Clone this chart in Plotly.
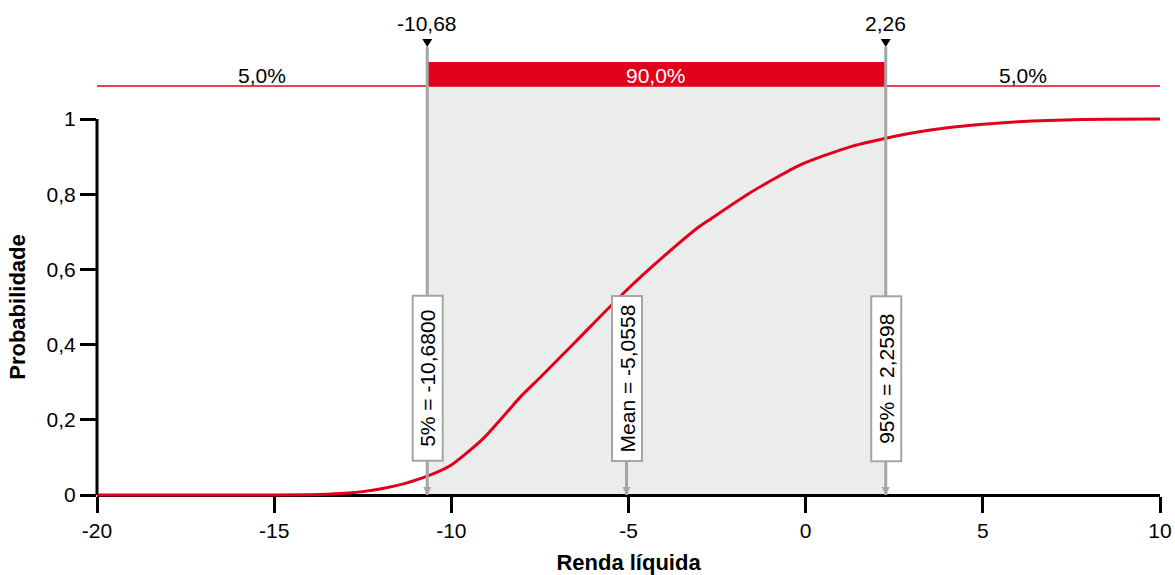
import plotly.graph_objects as go

# ---- data ----
x_vals = [-20, -16, -14, -13.5, -12.9, -12.5, -11.9, -11.3, -10.68, -10.0, -9.1, -8.45,
          -8.05, -7.5, -6.5, -5.15, -4.0, -3.0, -2.7, -1.6, -0.15, 1.25, 2.26, 3.0,
          4.0, 5.0, 6.0, 7.8, 10]
cdf_vals = [0, 0, 0.0005, 0.002, 0.005, 0.009, 0.018, 0.031, 0.05, 0.08, 0.150, 0.218,
            0.261, 0.312, 0.407, 0.536, 0.635, 0.714, 0.733, 0.802, 0.878, 0.926, 0.949, 0.963,
            0.977, 0.986, 0.993, 0.999, 1.0]

p_low = -10.68
p_high = 2.26
mean_val = -5.0558
low_label = "-10,68"
high_label = "2,26"
band_labels = ["5,0%", "90,0%", "5,0%"]
box_labels = ["5% = -10,6800", "Mean = -5,0558", "95% = 2,2598"]
box_x = [p_low, mean_val, p_high]

x_tickvals = [-20, -15, -10, -5, 0, 5, 10]
x_ticktext = ["-20", "-15", "-10", "-5", "0", "5", "10"]
y_tickvals = [0, 0.2, 0.4, 0.6, 0.8, 1]
y_ticktext = ["0", "0,2", "0,4", "0,6", "0,8", "1"]

x_range = [-20, 10]

# ---- style ----
RED = "#E2001A"
GREY = "#A5A5A5"
SHADE = "#EBECEC"
FONT = "Liberation Sans, Arial, sans-serif"
FS = 21
FT = 22

pad = 6 / 376.0          # extra y-range so the curve is not clipped
def yp(v):               # y value -> paper fraction
    return (v + pad) / (1 + 2 * pad)

band_y = 1.0878
bar_top = 1.1516
tri_tip = 1.1915
label_y = 1.2527
pct_y = 1.117
box_y = 0.3098

fig = go.Figure()
fig.add_trace(go.Scatter(x=x_vals, y=cdf_vals, mode="lines",
                         line=dict(color=RED, width=3, shape="spline", smoothing=0.6),
                         hoverinfo="skip", showlegend=False))

shapes = []
shapes.append(dict(type="rect", xref="x", yref="paper", x0=p_low, x1=p_high,
                   y0=yp(0), y1=yp(band_y), fillcolor=SHADE, line=dict(width=0), layer="below"))
shapes.append(dict(type="line", xref="paper", yref="paper", x0=0, x1=1,
                   y0=yp(band_y), y1=yp(band_y), line=dict(color=RED, width=1.5)))
shapes.append(dict(type="rect", xref="x", yref="paper", x0=p_low, x1=p_high,
                   y0=yp(band_y), y1=yp(bar_top), fillcolor=RED, line=dict(width=0)))
for xv in (p_low, p_high):
    shapes.append(dict(type="line", xref="x", yref="paper", x0=xv, x1=xv,
                       y0=yp(0), y1=yp(tri_tip), line=dict(color=GREY, width=3)))
shapes.append(dict(type="line", xref="x", yref="paper", x0=mean_val, x1=mean_val,
                   y0=yp(0), y1=yp(box_y), line=dict(color=GREY, width=3)))
for xv in (p_low, p_high):
    shapes.append(dict(type="path", xref="x", yref="paper", xsizemode="pixel", ysizemode="pixel",
                       xanchor=xv, yanchor=yp(tri_tip), path="M -5,8 L 5,8 L 0,0 Z",
                       fillcolor="black", line=dict(width=0)))
for xv in box_x:
    shapes.append(dict(type="path", xref="x", yref="paper", xsizemode="pixel", ysizemode="pixel",
                       xanchor=xv, yanchor=yp(0), path="M -4,8 L 4,8 L 0,0 Z",
                       fillcolor=GREY, line=dict(width=0)))
shapes.append(dict(type="line", xref="paper", yref="y", x0=0, x1=0, y0=0, y1=1,
                   line=dict(color="black", width=3), layer="below"))

annotations = []
for xv, lab in zip((p_low, p_high), (low_label, high_label)):
    annotations.append(dict(x=xv, y=yp(label_y), xref="x", yref="paper", text=lab,
                            xanchor="center", yanchor="middle",
                            showarrow=False, font=dict(family=FONT, size=FS, color="black")))
band_x = [(x_range[0] + p_low) / 2, (p_low + p_high) / 2, (p_high + x_range[1]) / 2]
band_colors = ["black", "white", "black"]
for xv, lab, c in zip(band_x, band_labels, band_colors):
    annotations.append(dict(x=xv, y=yp(pct_y), xref="x", yref="paper", text=lab,
                            xanchor="center", yanchor="middle",
                            showarrow=False, font=dict(family=FONT, size=FS, color=c)))
for xv, lab in zip(box_x, box_labels):
    annotations.append(dict(x=xv, y=yp(box_y), xref="x", yref="paper", text=lab,
                            xanchor="center", yanchor="middle",
                            showarrow=False, textangle=-90, bgcolor="white",
                            bordercolor=GREY, borderwidth=2, borderpad=0,
                            width=163, height=28,
                            font=dict(family=FONT, size=FS, color="black")))

fig.update_layout(
    width=1175, height=575,
    margin=dict(l=97, r=15, t=113, b=74),
    plot_bgcolor="white", paper_bgcolor="white",
    font=dict(family=FONT, size=FS, color="black"),
    shapes=shapes, annotations=annotations,
    xaxis=dict(range=x_range, tickvals=x_tickvals, ticktext=x_ticktext, automargin=False,
               showgrid=False, zeroline=False, showline=True, linecolor="black", linewidth=3,
               ticks="outside", ticklen=16, tickwidth=3, tickcolor="black",
               anchor="free", position=yp(0), layer="below traces",
               title=dict(text="<b>Renda líquida</b>", font=dict(family=FONT, size=FT), standoff=21),
               tickfont=dict(family=FONT, size=FS)),
    yaxis=dict(range=[-pad, 1 + pad], tickvals=y_tickvals, ticktext=y_ticktext, automargin=False,
               showgrid=False, zeroline=False, showline=False,
               ticks="outside", ticklen=16, tickwidth=3, tickcolor="black",
               title=dict(text="<b>Probabilidade</b>", font=dict(family=FONT, size=FT), standoff=14),
               tickfont=dict(family=FONT, size=FS)),
    showlegend=False,
)

fig.write_html("out.html", config={"displayModeBar": False},
               post_script="document.body.style.margin='0';")
